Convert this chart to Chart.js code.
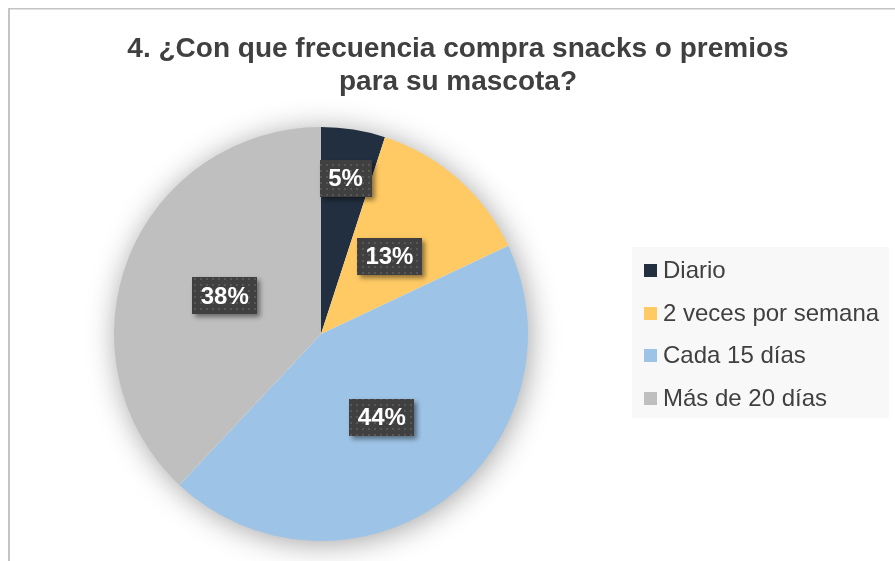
<!DOCTYPE html>
<html>
<head>
<meta charset="utf-8">
<title>Frecuencia de compra de snacks</title>
<script src="https://cdn.jsdelivr.net/npm/chart.js@4.4.1/dist/chart.umd.min.js"></script>
<style>
  html, body { margin: 0; padding: 0; background: #ffffff; }
  #wrap { position: relative; width: 895px; height: 561px; }
</style>
</head>
<body>
<div id="wrap"><canvas id="myChart" width="895" height="561"></canvas></div>
<script>
var titleLines = ["4. ¿Con que frecuencia compra snacks o premios", "para su mascota?"];
var categories = ["Diario", "2 veces por semana", "Cada 15 días", "Más de 20 días"];
var percentages = [5, 13, 44, 38];
var sliceColors = ["#222f40", "#ffca64", "#9dc3e6", "#bfbfbf"];

// how far out along each slice its value tag sits (fraction of the radius)
var tagRadius = [0.76, 0.5, 0.5, 0.5];

var FONT = "'Liberation Sans', Arial, sans-serif";
var TEXT_COLOR = "#404040";

// dotted dark fill used behind the value tags
function makeTagPattern(ctx) {
  var c = document.createElement("canvas");
  c.width = 6;
  c.height = 6;
  var p = c.getContext("2d");
  p.fillStyle = "#404040";
  p.fillRect(0, 0, 6, 6);
  p.fillStyle = "#575757";
  p.fillRect(2, 2, 2, 2);
  return ctx.createPattern(c, "repeat");
}

var framePlugin = {
  id: "frame",
  beforeDraw: function(chart) {
    var ctx = chart.ctx;
    ctx.save();
    ctx.fillStyle = "#c4c4c4";
    ctx.fillRect(8, 8, chart.width - 8, 1.5);
    ctx.fillRect(8, 8, 2, chart.height - 8);

    // chart title
    ctx.fillStyle = TEXT_COLOR;
    ctx.font = "bold 28px " + FONT;
    ctx.textAlign = "center";
    ctx.textBaseline = "alphabetic";
    for (var i = 0; i < titleLines.length; i++) {
      ctx.fillText(titleLines[i], 458, 57 + i * 33);
    }
    ctx.restore();
  },
  beforeDatasetsDraw: function(chart) {
    // soft shadow under the whole pie
    var arc = chart.getDatasetMeta(0).data[0];
    if (!arc) return;
    var ctx = chart.ctx;
    ctx.save();
    ctx.shadowColor = "rgba(0,0,0,0.38)";
    ctx.shadowBlur = 30;
    ctx.shadowOffsetX = 2;
    ctx.shadowOffsetY = 3;
    ctx.fillStyle = "#ffffff";
    ctx.beginPath();
    ctx.arc(arc.x, arc.y, arc.outerRadius - 1, 0, Math.PI * 2);
    ctx.fill();
    ctx.restore();
  },
  afterDatasetsDraw: function(chart) {
    var ctx = chart.ctx;
    var meta = chart.getDatasetMeta(0);
    var pattern = makeTagPattern(ctx);
    ctx.save();
    ctx.font = "bold 24px " + FONT;
    ctx.textAlign = "center";
    ctx.textBaseline = "middle";
    meta.data.forEach(function(arc, i) {
      var mid = (arc.startAngle + arc.endAngle) / 2;
      var r = arc.outerRadius * tagRadius[i];
      var cx = arc.x + Math.cos(mid) * r;
      var cy = arc.y + Math.sin(mid) * r;
      var text = percentages[i] + "%";
      var w = ctx.measureText(text).width + 17;
      var h = 37;
      ctx.save();
      ctx.shadowColor = "rgba(0,0,0,0.45)";
      ctx.shadowBlur = 5;
      ctx.shadowOffsetX = 3;
      ctx.shadowOffsetY = 3;
      ctx.fillStyle = pattern;
      ctx.fillRect(Math.round(cx - w / 2), Math.round(cy - h / 2), Math.round(w), h);
      ctx.restore();
      ctx.fillStyle = "#ffffff";
      ctx.fillText(text, cx, cy + 1);
    });
    ctx.restore();
  },
  afterDraw: function(chart) {
    // legend panel on the right
    var ctx = chart.ctx;
    var labels = chart.data.labels;
    var colors = chart.data.datasets[0].backgroundColor;
    ctx.save();
    ctx.fillStyle = "#f8f8f8";
    ctx.fillRect(632, 247, 257, 171);
    ctx.font = "24px " + FONT;
    ctx.textAlign = "left";
    ctx.textBaseline = "middle";
    for (var i = 0; i < labels.length; i++) {
      var y = 270.5 + i * 42.5;
      ctx.fillStyle = colors[i];
      ctx.fillRect(644, Math.round(y - 6.5), 13, 13);
      ctx.fillStyle = TEXT_COLOR;
      ctx.fillText(labels[i], 663, y + 1);
    }
    ctx.restore();
  }
};

var ctx = document.getElementById("myChart").getContext("2d");
var chart = new Chart(ctx, {
  type: "pie",
  data: {
    labels: categories,
    datasets: [{
      data: percentages,
      backgroundColor: sliceColors,
      borderWidth: 0
    }]
  },
  options: {
    responsive: false,
    animation: false,
    layout: {
      padding: { left: 114, right: 367, top: 127, bottom: 20 }
    },
    plugins: {
      legend: { display: false },
      title: { display: false },
      tooltip: { enabled: false }
    }
  },
  plugins: [framePlugin]
});
</script>
</body>
</html>
